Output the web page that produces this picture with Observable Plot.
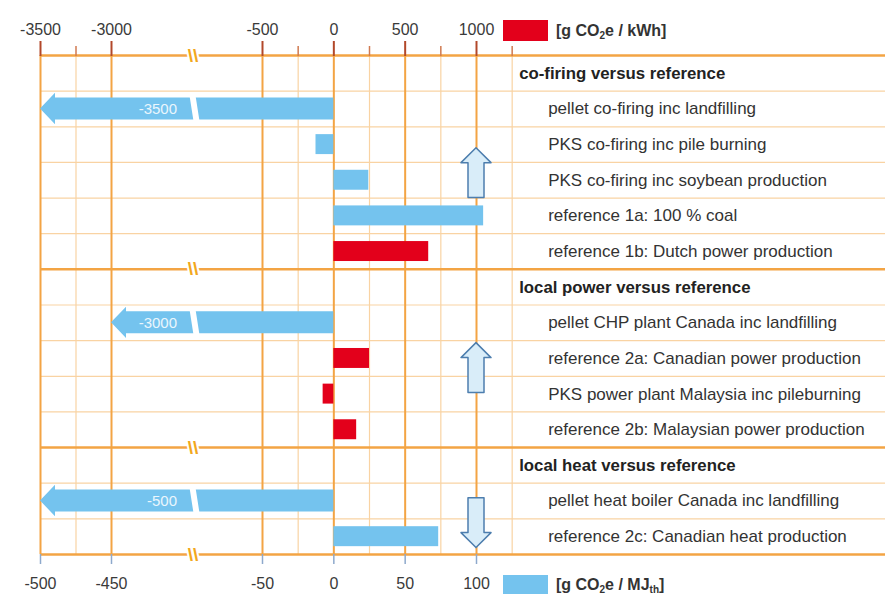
<!DOCTYPE html>
<html>
<head>
<meta charset="utf-8">
<script src="https://cdn.jsdelivr.net/npm/d3@7"></script>
<script src="https://cdn.jsdelivr.net/npm/@observablehq/plot@0.6"></script>
<style>
html,body{margin:0;padding:0;background:#fff;}
#chart{position:relative;width:885px;height:596px;overflow:hidden;font-family:"Liberation Sans",Arial,sans-serif;}
#chart svg{position:absolute;left:0;top:0;}
.legend{position:absolute;left:503px;display:flex;align-items:center;font-weight:bold;font-size:16px;line-height:18px;color:#333;white-space:nowrap;}
.legend .sw{width:45px;margin-right:8px;}
.legend sub{font-size:10px;line-height:0;vertical-align:-3px;}
</style>
</head>
<body>
<div id="chart"></div>
<script>
// ---------- data ----------
const rowLabels = [
  "co-firing versus reference",
  "pellet co-firing inc landfilling",
  "PKS co-firing inc pile burning",
  "PKS co-firing inc soybean production",
  "reference 1a: 100 % coal",
  "reference 1b: Dutch power production",
  "local power versus reference",
  "pellet CHP plant Canada inc landfilling",
  "reference 2a: Canadian power production",
  "PKS power plant Malaysia inc pileburning",
  "reference 2b: Malaysian power production",
  "local heat versus reference",
  "pellet heat boiler Canada inc landfilling",
  "reference 2c: Canadian heat production"
];
const headerRows = [0, 6, 11];

const barRows   = [2, 3, 4, 5, 8, 9, 10, 13];
const barValues = [-125, 245, 1050, 665, 250, -75, 160, 735];
const barSeries = ["MJ", "MJ", "MJ", "kWh", "kWh", "kWh", "kWh", "MJ"];

const bigArrowRows   = [1, 7, 12];
const bigArrowValues = [-3500, -3000, -3500];
const bigArrowLabels = ["-3500", "-3000", "-500"];

const hintArrowRows = [2.8, 8.27, 12.62];
const hintArrowDirs = ["up", "up", "down"];
const hintArrowValue = 1000;

const topTicks = [-3500, -3000, -500, 0, 500, 1000];
const topMinorTicks = [-3250, -250, 250, 750, 1250];
const bottomTickLabels = ["-500", "-450", "-50", "0", "50", "100"];
const axisBreakValue = -1650;
const labelEdgeValue = 1250;
const sectionLines = [-0.5, 5.5, 10.5, 13.5];

// ---------- styles ----------
const colors = {kWh: "#e3001b", MJ: "#74c3ee"};
const orange = "#f3a444", orangeLight = "#f9d3a3";
const FONT = "'Liberation Sans', Arial, sans-serif";

// ---------- scales ----------
const xOpts = {type: "linear", domain: [-3500, -3000, -500, 1000], range: [40, 111, 262, 476]};
const yOpts = {type: "linear", domain: [-0.5, 13.5], range: [55, 554]};
const xs = Plot.scale({x: xOpts});
const pxOff = (v, dpx) => xs.invert(xs.apply(v) + dpx);

// ---------- derived tables ----------
const rows = rowLabels.map((label, i) => ({label, i, header: headerRows.includes(i)}));
const bars = barRows.map((row, k) => ({row, value: barValues[k], series: barSeries[k]}));
const rowLines = d3.range(-0.5, 14, 1).filter(v => !sectionLines.includes(v));

const bigArrowPts = [];
const gapPts = [];
bigArrowRows.forEach((r, k) => {
  const v = bigArrowValues[k];
  const hb = pxOff(v, 15);
  bigArrowPts.push(
    {id: k, x: v, y1: r, y2: r},
    {id: k, x: hb, y1: r - 0.44, y2: r + 0.44},
    {id: k, x: hb, y1: r - 0.31, y2: r + 0.31},
    {id: k, x: 0, y1: r - 0.31, y2: r + 0.31}
  );
  gapPts.push(
    {id: k, y: r - 0.36, x1: pxOff(axisBreakValue, -3), x2: pxOff(axisBreakValue, 3)},
    {id: k, y: r + 0.36, x1: pxOff(axisBreakValue, 1), x2: pxOff(axisBreakValue, 7)}
  );
});
const bigLabels = bigArrowRows.map((r, k) => ({row: r, label: bigArrowLabels[k]}));

const hintPts = [];
hintArrowRows.forEach((c, k) => {
  const half = 0.7, head = 0.42;
  const L15 = pxOff(hintArrowValue, -15), R15 = pxOff(hintArrowValue, 15);
  const L8 = pxOff(hintArrowValue, -8), R8 = pxOff(hintArrowValue, 8);
  const up = hintArrowDirs[k] === "up";
  const tip = up ? c - half : c + half, tail = up ? c + half : c - half;
  const hy = up ? tip + head : tip - head;
  hintPts.push(
    {id: k, y: tip, x1: hintArrowValue, x2: hintArrowValue},
    {id: k, y: hy, x1: L15, x2: R15},
    {id: k, y: hy, x1: L8, x2: R8},
    {id: k, y: tail, x1: L8, x2: R8}
  );
});
const bottomLabelMap = new Map(topTicks.map((t, i) => [t, bottomTickLabels[i]]));

// ---------- plot ----------
const plot = Plot.plot({
  width: 885, height: 596,
  marginLeft: 40, marginRight: 0, marginTop: 55, marginBottom: 42,
  x: {...xOpts, axis: null},
  y: {...yOpts, axis: null},
  style: {fontFamily: FONT, background: "transparent"},
  marks: [
    // grid
    Plot.ruleY(rowLines, {stroke: orangeLight, strokeWidth: 1.2}),
    Plot.ruleX(topMinorTicks, {y1: -0.5, y2: 13.5, stroke: orangeLight, strokeWidth: 1.2}),
    Plot.ruleX(topTicks, {y1: -0.5, y2: 13.5, stroke: orange, strokeWidth: 2}),
    Plot.ruleY(sectionLines, {stroke: orange, strokeWidth: 2.5}),
    // axis-break markers
    Plot.text(sectionLines, {x: axisBreakValue, y: d => d, text: () => "\\\\", fill: "#f2a81c",
      stroke: "white", strokeWidth: 4, fontSize: 19, fontWeight: "bold"}),
    // bars
    Plot.rect(bars, {x1: 0, x2: "value", y1: d => d.row - 0.28, y2: d => d.row + 0.28,
      fill: d => colors[d.series]}),
    // big arrows
    Plot.areaY(bigArrowPts, {x: "x", y1: "y1", y2: "y2", z: "id", fill: colors.MJ}),
    Plot.areaX(gapPts, {y: "y", x1: "x1", x2: "x2", z: "id", fill: "white"}),
    Plot.text(bigLabels, {x: axisBreakValue, y: "row", text: "label", dx: -16, textAnchor: "end",
      fill: "#eaf6fd", fontSize: 15}),
    // hollow hint arrows
    Plot.areaX(hintPts, {y: "y", x1: "x1", x2: "x2", z: "id", fill: "#d9edf9",
      stroke: "#4d7eae", strokeWidth: 1.5}),
    // row labels
    Plot.text(rows.filter(d => d.header), {x: labelEdgeValue, y: "i", text: "label", dx: 7,
      textAnchor: "start", fontWeight: "bold", fontSize: 16.8, fill: "#222"}),
    Plot.text(rows.filter(d => !d.header), {x: labelEdgeValue, y: "i", text: "label", dx: 36,
      textAnchor: "start", fontSize: 17, fill: "#333"}),
    // axes
    Plot.axisX(topMinorTicks, {anchor: "top", tickSize: 10, tickFormat: () => "", stroke: "#d07a50", strokeWidth: 1.5}),
    Plot.axisX(topTicks, {anchor: "top", tickSize: 15, tickPadding: 6, tickFormat: d => String(d),
      stroke: "#b2482a", strokeWidth: 2, fill: "#3a3a3a", fontSize: 16}),
    Plot.axisX(topTicks, {anchor: "bottom", tickSize: 10, tickPadding: 13, tickFormat: d => bottomLabelMap.get(d),
      stroke: "#8ea9cc", strokeWidth: 1.5, fill: "#3a3a3a", fontSize: 16})
  ]
});

const chart = document.getElementById("chart");
chart.appendChild(plot);
const legTop = document.createElement("div");
legTop.className = "legend";
legTop.style.top = "20px";
legTop.innerHTML = `<span class="sw" style="background:${colors.kWh};height:21px"></span><span>[g CO<sub>2</sub>e / kWh]</span>`;
chart.appendChild(legTop);
const legBot = document.createElement("div");
legBot.className = "legend";
legBot.style.top = "575px";
legBot.innerHTML = `<span class="sw" style="background:${colors.MJ};height:19px"></span><span>[g CO<sub>2</sub>e / MJ<sub>th</sub>]</span>`;
chart.appendChild(legBot);
</script>
</body>
</html>
